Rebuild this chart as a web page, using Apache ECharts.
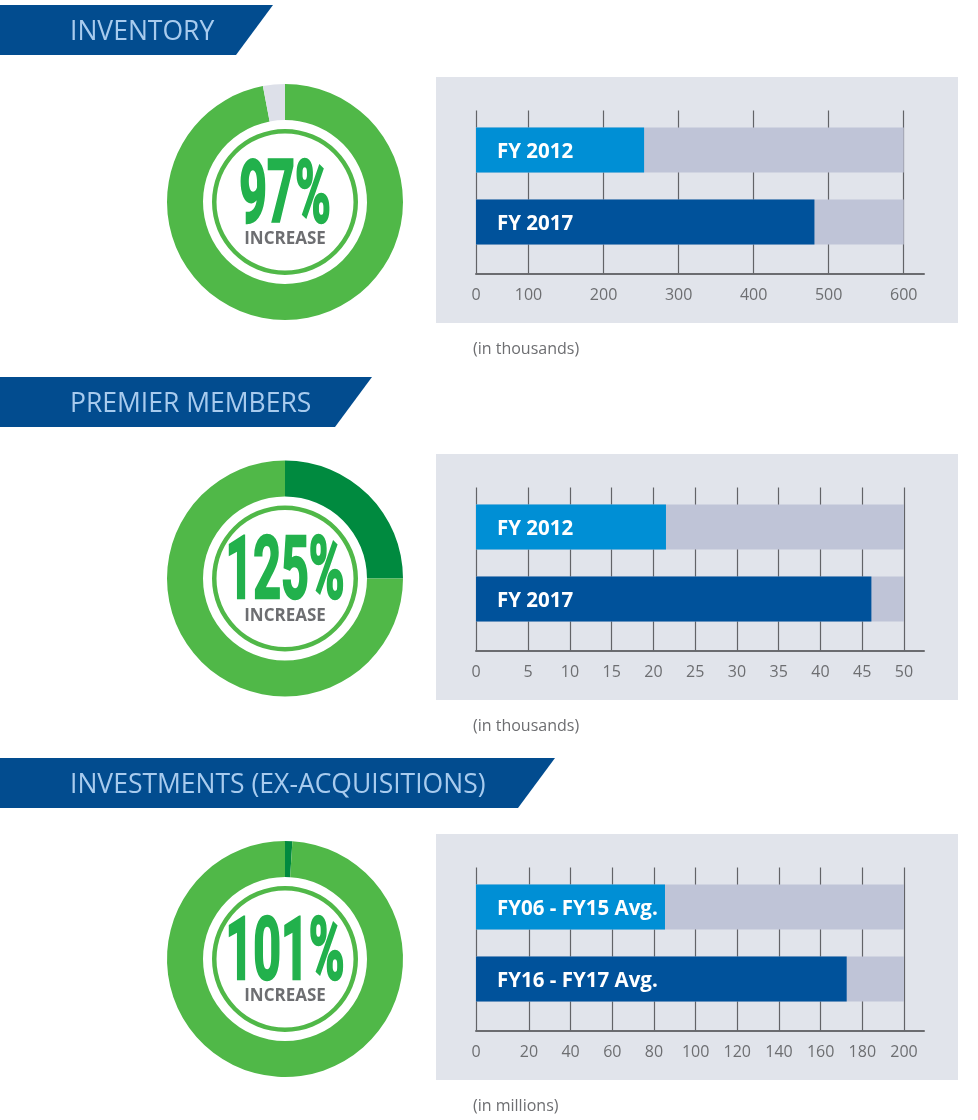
<!DOCTYPE html>
<html>
<head>
<meta charset="utf-8">
<title>Inventory, premier members, investments</title>
<script src="https://cdn.jsdelivr.net/npm/echarts@6.0.0/dist/echarts.min.js"></script>
<style>
  html, body { margin: 0; padding: 0; background: #fff; }
  #main { width: 978px; height: 1120px; }
</style>
</head>
<body>
<div id="main"></div>
<script>
// section headers + unit notes
var titles = ['INVENTORY', 'PREMIER MEMBERS', 'INVESTMENTS (EX-ACQUISITIONS)'];
var units = ['(in thousands)', '(in thousands)', '(in millions)'];

// % increase shown in the donuts
var increase = [97, 125, 101];

// inventory
var invCats = ['FY 2012', 'FY 2017'];
var invValues = [254, 481];
var invTicks = [0, 100, 200, 300, 400, 500, 600];

// premier members
var memCats = ['FY 2012', 'FY 2017'];
var memValues = [21.5, 46.1];
var memTicks = [0, 5, 10, 15, 20, 25, 30, 35, 40, 45, 50];

// investments
var invstCats = ['FY06 - FY15 Avg.', 'FY16 - FY17 Avg.'];
var invstValues = [85.3, 172.5];
var invstTicks = [0, 20, 40, 60, 80, 100, 120, 140, 160, 180, 200];

// the printed axes don't space the first step like the others:
// the "0" mark sits where this value falls on the even part of the scale
var axisStart = [30, -1.25, -5.4];
var axisEnd = [627, 52.4, 209.6];

// layout (px)
var bannerTop = [5, 377, 758];
var bannerRight = [273, 372, 555];
var panelTop = [77, 454, 834];
var donutY = [202, 578.5, 959];

var green = '#50b848', darkGreen = '#008a3f', ringGray = '#dde0e9';
var barColors = ['#008fd5', '#00529b'];
var trackColor = '#bfc4d7';
var textGray = '#6d6e71';

var sets = [
  { cats: invCats, values: invValues, ticks: invTicks },
  { cats: memCats, values: memValues, ticks: memTicks },
  { cats: invstCats, values: invstValues, ticks: invstTicks }
];

var grids = [], xAxes = [], yAxes = [], series = [], graphics = [];

sets.forEach(function (s, i) {
  var top = panelTop[i];
  var full = s.ticks[s.ticks.length - 1];
  var tickVals = s.ticks.slice();
  tickVals[0] = axisStart[i];

  // banner
  var by = bannerTop[i], br = bannerRight[i];
  graphics.push({
    type: 'polygon', z: 1,
    shape: { points: [[0, by], [br, by], [br - 37, by + 50], [0, by + 50]] },
    style: { fill: '#024c8f' }
  });
  graphics.push({
    type: 'text', z: 2, x: 70, y: by + 27,
    style: { text: titles[i], fill: '#a8cbee', font: '26.5px "Open Sans"',
      textAlign: 'left', textVerticalAlign: 'middle', align: 'left', verticalAlign: 'middle' }
  });

  // grey panel behind the bars
  graphics.push({
    type: 'rect', z: -1,
    shape: { x: 436, y: top, width: 522, height: 246 },
    style: { fill: '#e1e4eb' }
  });
  graphics.push({
    type: 'text', z: 2, x: 473, y: top + 272,
    style: { text: units[i], fill: textGray, font: '16px "Open Sans"',
      textAlign: 'left', textVerticalAlign: 'middle', align: 'left', verticalAlign: 'middle' }
  });

  grids.push({ left: 476, width: 448, top: top + 37, height: 144 });
  xAxes.push({
    type: 'value', gridIndex: i,
    min: axisStart[i], max: axisEnd[i], startValue: axisStart[i],
    offset: 15.5,
    axisLine: { show: true, lineStyle: { color: '#6b6c70', width: 2 } },
    axisTick: { show: true, inside: true, length: 163, customValues: tickVals,
      lineStyle: { color: '#626367', width: 1.2 } },
    axisLabel: {
      customValues: tickVals, margin: 14, color: textGray,
      fontFamily: 'Open Sans', fontSize: 16,
      formatter: function (v) {
        var k = tickVals.indexOf(v);
        return k < 0 ? '' : String(s.ticks[k]);
      }
    },
    splitLine: { show: false }
  });
  yAxes.push({ type: 'category', gridIndex: i, data: s.cats, inverse: true, show: false });

  series.push({
    type: 'bar', xAxisIndex: i, yAxisIndex: i, silent: true,
    barWidth: 45, barGap: '-100%',
    itemStyle: { color: trackColor },
    data: s.cats.map(function () { return full; })
  });
  series.push({
    type: 'bar', xAxisIndex: i, yAxisIndex: i, silent: true,
    barWidth: 45, barGap: '-100%',
    data: s.values.map(function (v, k) { return { value: v, itemStyle: { color: barColors[k] } }; }),
    label: { show: true, position: 'insideLeft', distance: 21, offset: [0, 2], formatter: '{b}',
      color: '#fff', fontFamily: 'Open Sans', fontWeight: 'bold', fontSize: 20.5 }
  });

  // donut
  var p = increase[i], cy = donutY[i];
  var slices = p <= 100
    ? [{ value: p, itemStyle: { color: green } }, { value: 100 - p, itemStyle: { color: ringGray } }]
    : [{ value: p - 100, itemStyle: { color: darkGreen } }, { value: 200 - p, itemStyle: { color: green } }];
  series.push({
    type: 'pie', center: [285, cy], radius: [82, 118], startAngle: 90, clockwise: true,
    silent: true, label: { show: false }, labelLine: { show: false },
    itemStyle: { borderWidth: 0 }, data: slices
  });
  series.push({
    type: 'pie', center: [285, cy], radius: [68.5, 73],
    silent: true, label: { show: false }, labelLine: { show: false },
    itemStyle: { borderWidth: 0 }, data: [{ value: 1, itemStyle: { color: green } }]
  });
  graphics.push({
    type: 'text', z: 10, x: 285, y: cy - 2.5, scaleX: 0.55,
    style: { text: p + '%', fill: '#22b14c', stroke: '#22b14c', lineWidth: 2.5,
      font: 'bold 88px Roboto',
      textAlign: 'center', textVerticalAlign: 'middle', align: 'center', verticalAlign: 'middle' }
  });
  graphics.push({
    type: 'text', z: 10, x: 285, y: cy + 37.5,
    style: { text: 'INCREASE', fill: textGray, font: 'bold 17px "Open Sans"',
      textAlign: 'center', textVerticalAlign: 'middle', align: 'center', verticalAlign: 'middle' }
  });
});

var chart = echarts.init(document.getElementById('main'));
chart.setOption({
  animation: false,
  backgroundColor: '#fff',
  grid: grids,
  xAxis: xAxes,
  yAxis: yAxes,
  series: series,
  graphic: { elements: graphics }
});
</script>
</body>
</html>
